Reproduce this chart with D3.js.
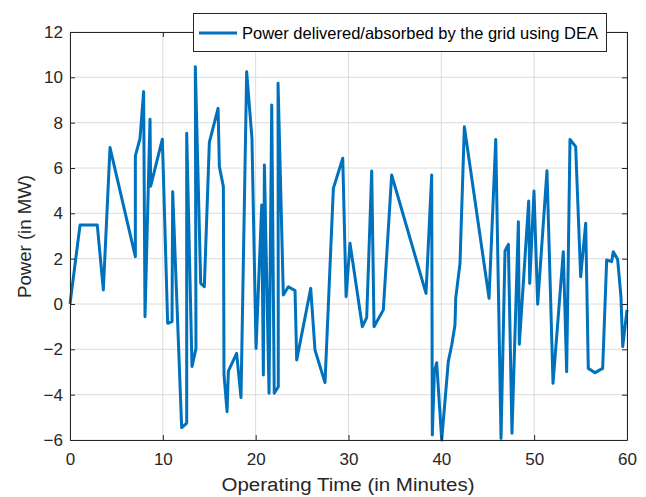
<!DOCTYPE html>
<html><head><meta charset="utf-8">
<script src="https://cdn.jsdelivr.net/npm/d3@7"></script>
<style>body{margin:0;background:#fff;} svg{display:block;font-family:"Liberation Sans",Arial,sans-serif;}</style>
</head><body>
<svg id="c" width="646" height="497"></svg>
<script>
const seriesName = "Power delivered/absorbed by the grid using DEA";
const timeMin = [0,1.08,2.94,3.59,4.31,7.04,7.04,7.54,7.93,8.08,8.62,8.69,9.95,10.52,10.99,11.06,12.03,12.57,12.57,13.14,13.57,13.5,14.08,14.47,15.01,15.95,16.09,16.52,16.59,16.92,17.06,17.95,18.42,19.03,19.6,20.04,20.65,20.83,20.94,21.44,21.73,22.0,22.44,22.41,22.98,23.52,24.24,24.42,25.93,26.39,27.47,28.37,29.38,29.74,30.16,31.49,31.96,32.5,32.75,33.75,34.65,38.35,38.96,39.03,39.25,39.5,40.04,40.75,41.12,41.47,41.55,42.01,42.48,45.14,45.86,46.43,46.86,47.22,47.61,48.3,48.4,49.41,49.52,49.98,50.38,51.38,52.03,53.14,53.5,53.86,54.47,55.01,55.55,55.83,56.56,57.38,57.81,58.35,58.52,58.99,59.35,59.54,60.0];
const powerMW = [0,3.48,3.48,0.62,6.9,2.09,6.53,7.3,9.37,-0.56,8.15,5.2,7.27,-0.85,-0.78,4.95,-5.46,-5.26,7.53,-2.76,-1.96,10.47,0.91,0.76,7.13,8.63,6.06,5.18,-3.13,-4.75,-2.96,-2.18,-4.13,10.25,7.31,-1.96,4.37,-3.13,6.13,-3.94,8.78,-3.94,-3.65,9.74,0.4,0.76,0.59,-2.47,0.69,-2.03,-3.47,5.1,6.43,0.32,2.68,-1.0,-0.6,5.87,-1.0,-0.26,5.69,0.47,5.69,-5.78,-2.99,-2.59,-6.0,-2.54,-1.81,-0.93,0.25,1.79,7.82,0.25,7.26,-5.93,2.34,2.63,-5.7,3.63,-1.78,4.54,0.91,4.98,-0.01,5.88,-3.5,2.31,-2.99,7.26,6.94,1.2,3.56,-2.84,-3.03,-2.84,1.94,1.87,2.31,1.97,0.32,-1.88,-0.26];
const xTicks = [0,10,20,30,40,50,60];
const yTicks = [-6,-4,-2,0,2,4,6,8,10,12];
const xLabel = "Operating Time (in Minutes)";
const yLabel = "Power (in MW)";

const svg = d3.select("#c");
const L = 70, R = 627, T = 32, B = 440;
const x = d3.scaleLinear().domain([0,60]).range([L,R]);
const y = d3.scaleLinear().domain([-6,12]).range([B,T]);

// grid
const g = svg.append("g");
g.selectAll(".gx").data(xTicks).join("line")
  .attr("x1", d=>x(d)).attr("x2", d=>x(d)).attr("y1", T).attr("y2", B)
  .attr("stroke", "#dcdcdc").attr("stroke-width", 1);
g.selectAll(".gy").data(yTicks).join("line")
  .attr("x1", L).attr("x2", R).attr("y1", d=>y(d)).attr("y2", d=>y(d))
  .attr("stroke", "#dcdcdc").attr("stroke-width", 1);

// line
const line = d3.line().x((d,i)=>x(timeMin[i])).y(d=>y(d));
svg.append("path").datum(powerMW).attr("d", line)
  .attr("fill","none").attr("stroke","#0072BD").attr("stroke-width",3)
  .attr("stroke-linejoin","round");

// axes
const fs = 17;
const xAxis = d3.axisBottom(x).tickValues(xTicks).tickSizeInner(-5).tickSizeOuter(0).tickPadding(10);
const yAxis = d3.axisLeft(y).tickValues(yTicks).tickSizeInner(-5).tickSizeOuter(0).tickPadding(7);
const gx = svg.append("g").attr("transform",`translate(0,${B})`).call(xAxis);
const gy = svg.append("g").attr("transform",`translate(${L},0)`).call(yAxis);
const gx2 = svg.append("g").attr("transform",`translate(0,${T})`).call(d3.axisTop(x).tickValues(xTicks).tickSizeInner(-5).tickSizeOuter(0).tickFormat(""));
const gy2 = svg.append("g").attr("transform",`translate(${R},0)`).call(d3.axisRight(y).tickValues(yTicks).tickSizeInner(-5).tickSizeOuter(0).tickFormat(""));
[gx,gy,gx2,gy2].forEach(a=>{
  a.select(".domain").attr("stroke","#262626").attr("stroke-width",1);
  a.selectAll(".tick line").attr("stroke","#262626");
  a.selectAll("text").attr("font-size",fs).attr("fill","#262626").attr("font-family","Liberation Sans, Arial, sans-serif");
});
gx.selectAll("text").attr("dy","0.9em");

svg.append("text").attr("x",(L+R)/2 - 0.5).attr("y",491).attr("text-anchor","middle")
  .attr("font-size",18).attr("fill","#262626")
  .attr("textLength",253).attr("lengthAdjust","spacingAndGlyphs").text(xLabel);
svg.append("text").attr("transform",`translate(31,${(T+B)/2 + 0.5}) rotate(-90)`).attr("text-anchor","middle")
  .attr("font-size",18).attr("fill","#262626")
  .attr("textLength",123).attr("lengthAdjust","spacingAndGlyphs").text(yLabel);

// legend
const lg = svg.append("g");
lg.append("rect").attr("x",193.5).attr("y",13.5).attr("width",413).attr("height",38)
  .attr("fill","#fff").attr("stroke","#262626").attr("stroke-width",1);
lg.append("line").attr("x1",199).attr("x2",237).attr("y1",33).attr("y2",33)
  .attr("stroke","#0072BD").attr("stroke-width",3);
lg.append("text").attr("x",242).attr("y",39).attr("font-size",16.5).attr("fill","#000")
  .attr("textLength",356).attr("lengthAdjust","spacingAndGlyphs").text(seriesName);
</script>
</body></html>
